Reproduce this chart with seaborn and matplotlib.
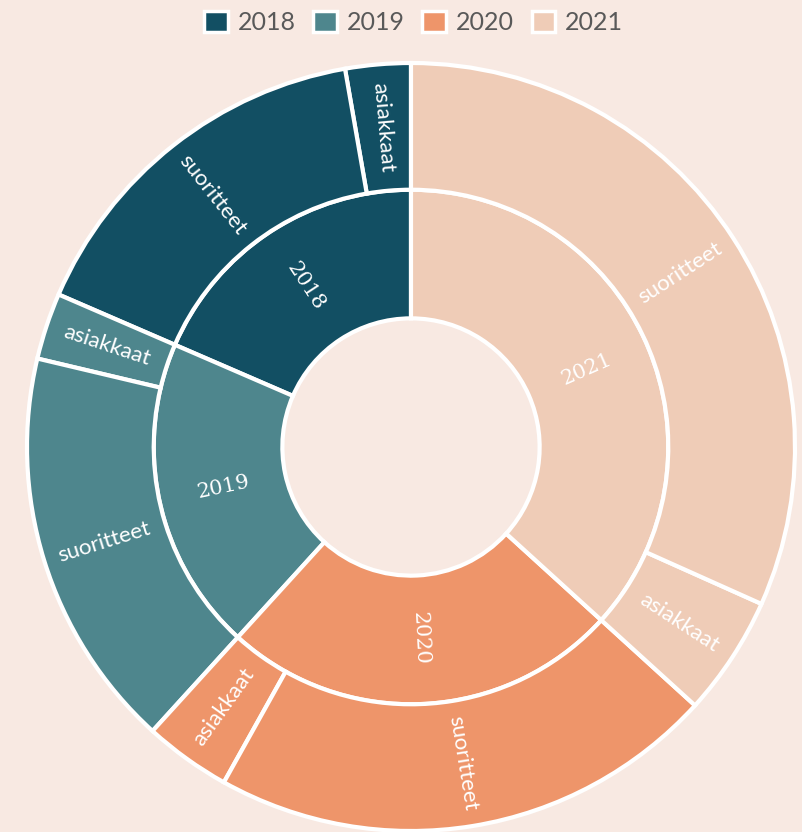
import matplotlib
matplotlib.use("Agg")
import matplotlib.pyplot as plt
import seaborn as sns
import numpy as np

years = ["2018", "2019", "2020", "2021"]
sub_labels = ["asiakkaat", "suoritteet"]
asiakkaat = [2.75, 2.8, 3.65, 5.05]
suoritteet = [15.75, 16.95, 21.35, 31.7]

year_colors = ["#124F63", "#4E868D", "#EE956A", "#EFCCB7"]
bg = "#F8E9E2"

sns.set_theme(style="white")
plt.rcParams['font.family'] = ['Lato', 'DejaVu Sans']

fig = plt.figure(figsize=(8.03, 8.32), dpi=100, facecolor=bg)
ax = fig.add_axes([27 / 803, 1 / 832, 768 / 803, 768 / 832])
ax.set_facecolor(bg)

inner_vals = [a + s for a, s in zip(asiakkaat, suoritteet)]
outer_vals = []
outer_cols = []
outer_names = []
for i in range(len(years)):
    outer_vals += [asiakkaat[i], suoritteet[i]]
    outer_cols += [year_colors[i], year_colors[i]]
    outer_names += sub_labels

wedge_kw = dict(edgecolor="white", linewidth=3)
w_in, _ = ax.pie(inner_vals, radius=0.67, colors=year_colors, startangle=90,
                 counterclock=True, wedgeprops=dict(width=0.335, **wedge_kw))
w_out, _ = ax.pie(outer_vals, radius=1.0, colors=outer_cols, startangle=90,
                  counterclock=True, wedgeprops=dict(width=0.33, **wedge_kw))


def radial_rot(theta):
    r = theta % 360
    if r > 90 and r <= 270:
        r -= 180
    elif r > 270:
        r -= 360
    return r


for w, lab in zip(w_in, years):
    th = (w.theta1 + w.theta2) / 2
    r = 0.5
    ax.text(r * np.cos(np.radians(th)), r * np.sin(np.radians(th)), lab,
            rotation=radial_rot(th), rotation_mode="anchor", ha="center", va="center",
            color="white", fontsize=15, family=["DejaVu Serif"])

for w, lab in zip(w_out, outer_names):
    th = (w.theta1 + w.theta2) / 2
    r = 0.835
    ax.text(r * np.cos(np.radians(th)), r * np.sin(np.radians(th)), lab,
            rotation=radial_rot(th), rotation_mode="anchor", ha="center", va="center",
            color="white", fontsize=16)

ax.set_xlim(-1, 1)
ax.set_ylim(-1, 1)
ax.set_aspect("equal")
ax.axis("off")

handles = [plt.Rectangle((0, 0), 1, 1, facecolor=c, edgecolor="white", linewidth=2.5)
           for c in year_colors]
fig.legend(handles, years, loc="upper center", bbox_to_anchor=(0.515, 1.014), ncol=4,
           frameon=False, fontsize=18, labelcolor="#595959", handlelength=0.95,
           handleheight=0.95, handletextpad=0.4, columnspacing=0.7)

fig.savefig("out.png", dpi=100, facecolor=bg)
